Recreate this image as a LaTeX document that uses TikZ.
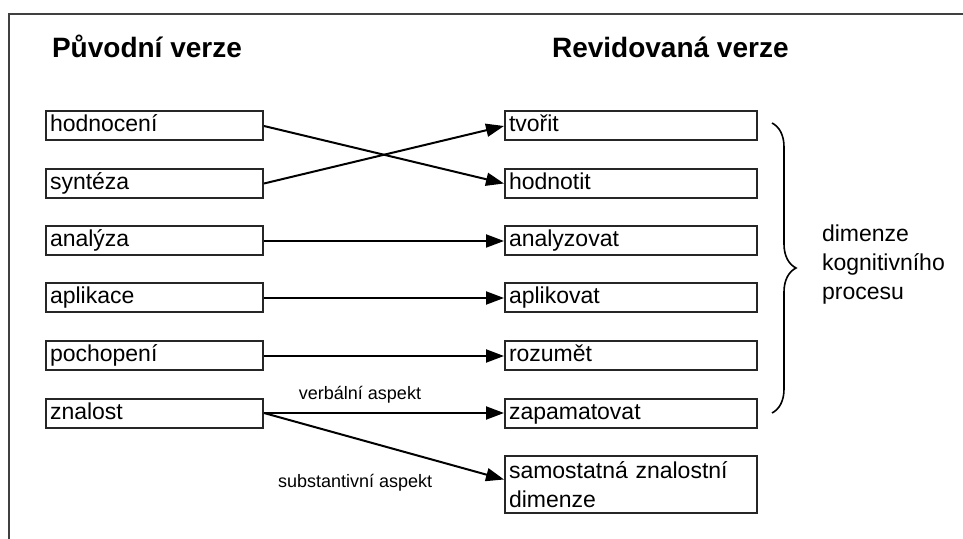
\documentclass[tikz,border=0pt]{standalone}
\usepackage{fontspec}
\setmainfont{Liberation Sans}
\usetikzlibrary{arrows.meta,decorations.pathreplacing}

\begin{document}
\begin{tikzpicture}[x=0.5pt, y=-0.5pt,
  every node/.style={font=\fontsize{11.5}{14.5}\selectfont},
  box/.style={draw=black!85, line width=1pt, anchor=west, inner xsep=2pt, inner ysep=0pt, align=left},
  oldbox/.style={box, text width=104.5pt, minimum height=14.5pt, text height=8.6pt, text depth=2.6pt},
  newbox/.style={box, text width=122pt, minimum height=14.5pt, text height=8.6pt, text depth=2.6pt},
  head/.style={anchor=base west, font=\fontsize{14}{16}\selectfont\bfseries},
  aspect/.style={font=\fontsize{9}{11}\selectfont},
  conn/.style={line width=1pt, -{Triangle[length=9pt,width=6.5pt]}}]
\useasboundingbox (0,0) rectangle (963,539);
% frame
\draw[line width=0.8pt, black!75] (963,14) -- (9,14) -- (9,539);
% headings
\node[head] (oldhead) at (45,58) {Původní verze};
\node[head] (newhead) at (545,58) {Revidovaná verze};
% original version
\node[oldbox] (old1) at (45,126) {hodnocení};
\node[oldbox] (old2) at (45,183.5) {syntéza};
\node[oldbox] (old3) at (45,241) {analýza};
\node[oldbox] (old4) at (45,298) {aplikace};
\node[oldbox] (old5) at (45,356) {pochopení};
\node[oldbox] (old6) at (45,413) {znalost};
% revised version
\node[newbox] (new1) at (504,126) {tvořit};
\node[newbox] (new2) at (504,183.5) {hodnotit};
\node[newbox] (new3) at (504,241) {analyzovat};
\node[newbox] (new4) at (504,298) {aplikovat};
\node[newbox] (new5) at (504,356) {rozumět};
\node[newbox] (new6) at (504,413) {zapamatovat};
\node[box, text width=122pt, minimum height=28.5pt] (new7) at (504,484.5) {samostatná znalostní\\dimenze};
% arrows
\draw[conn] (old1.east) -- (new2.west);
\draw[conn] (old2.east) -- (new1.west);
\draw[conn] (old3.east) -- (new3.west);
\draw[conn] (old4.east) -- (new4.west);
\draw[conn] (old5.east) -- (new5.west);
\draw[conn] (old6.east) -- node[aspect, pos=0.4, above=1pt] {verbální aspekt} (new6.west);
\draw[conn] (old6.east) -- node[aspect, pos=0.38, below=14pt] {substantivní aspekt} ([yshift=2.5pt]new7.west);
% brace
\draw[line width=0.8pt, decorate, decoration={brace, amplitude=12pt}] (772,123) -- (772,413);
\node[anchor=west, align=left] (dimlabel) at (815,265) {dimenze\\kognitivního\\procesu};
\end{tikzpicture}
\end{document}
